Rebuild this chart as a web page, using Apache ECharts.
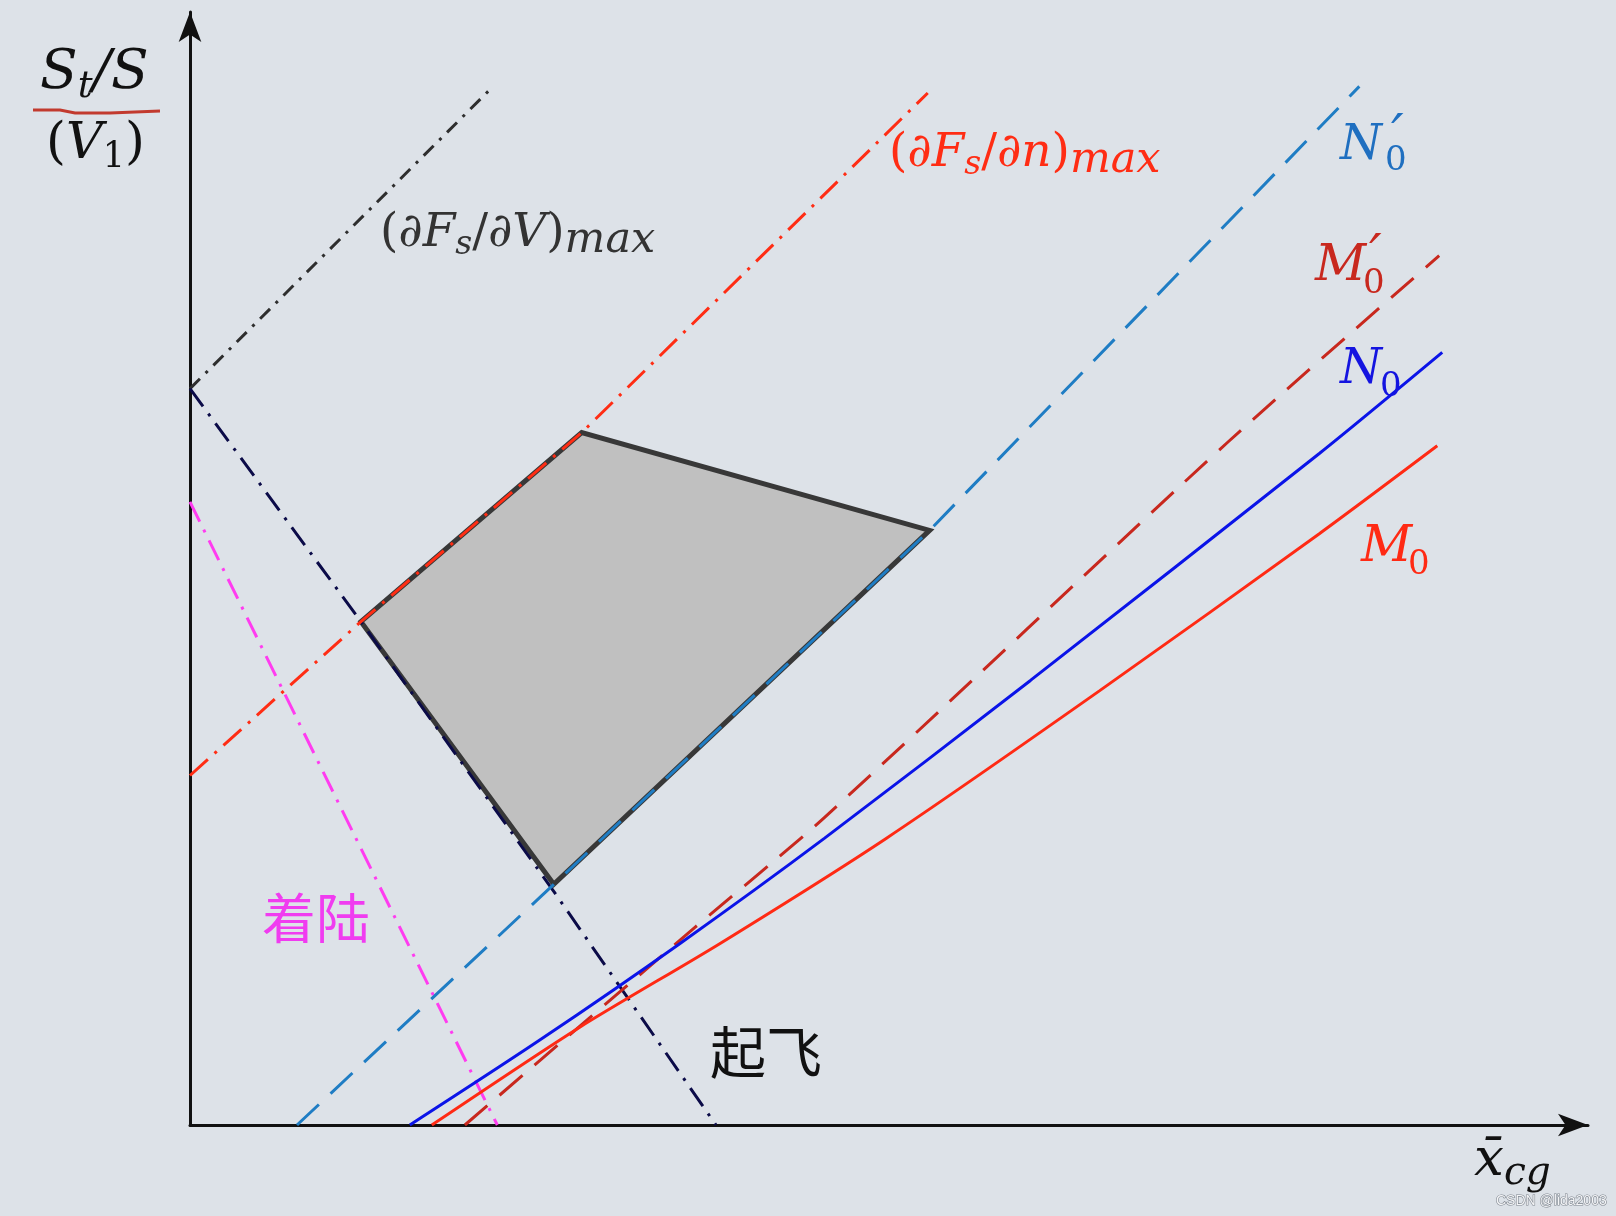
<!DOCTYPE html>
<html><head><meta charset="utf-8">
<script src="https://cdn.jsdelivr.net/npm/echarts@6/dist/echarts.min.js"></script>
<style>html,body{margin:0;padding:0;background:#dce1e7}#c{width:1616px;height:1216px}</style>
</head><body><div id="c"></div>
<script>
// Chart values in abstract units (x: 0..100, y: 0..100)
const dFsdV   = [[0,67.0],[21.9,94.5]];
const takeoff = [[0,67.0],[12.35,45.8],[26.2,21.4],[38.0,0]];
const dFsdn   = [[0,31.8],[12.35,45.8],[28.3,63.0],[53.3,93.9]];
const landing = [[0,56.7],[22.2,0]];
const N0prime = [[7.73,0],[26.28,21.9],[53.43,54.1],[84.48,94.5]];
const M0prime = [[19.86,0],[36.5,18.0],[45.85,28.0],[74.95,62.1],[90.25,79.1]];
const N0      = [[15.88,0],[25.27,7.73],[35.38,16.5],[45.85,26.1],[60.72,40.45],[81.59,61.1],[90.47,70.3]];
const M0      = [[17.47,0],[28.16,8.9],[38.27,16.5],[50.32,26.1],[65.7,39.5],[81.59,53.8],[90.11,61.8]];
const region  = [[12.35,45.8],[28.3,63.0],[53.43,54.1],[26.28,21.9]];
const xMax = 101.0, yMax = 101.27;

const MATH = '"DejaVu Serif"';
const CJK = '"Noto Sans CJK SC"';

function lineSeries(name, data, color, dash, smooth) {
  return {
    name, type: 'line', data, showSymbol: false, symbol: 'none', z: 3,
    smooth: smooth ? 0.25 : false, silent: true,
    lineStyle: { color, width: 3, type: dash, cap: 'butt' }
  };
}

function txt(x, y, text, color, size, italic, extra) {
  return {
    type: 'text', x, y, silent: true, z: 10,
    style: Object.assign({
      text, fill: color, fontSize: size, fontFamily: italic === 'cjk' ? CJK : MATH,
      fontStyle: italic === true ? 'italic' : 'normal',
      align: 'left', verticalAlign: 'middle'
    }, extra || {})
  };
}

function mathRich(x, y, text, color, mainSize, L, subs) {
  const rich = { m: { fontSize: mainSize, fontFamily: MATH, fontStyle: 'italic', fill: color, lineHeight: L, verticalAlign: 'middle' },
                 u: { fontSize: mainSize, fontFamily: MATH, fontStyle: 'normal', fill: color, lineHeight: L, verticalAlign: 'middle' } };
  for (const k in subs) {
    rich[k] = Object.assign({ fontFamily: MATH, fill: color, verticalAlign: 'bottom' }, subs[k]);
  }
  return { type: 'text', x, y, silent: true, z: 10,
    style: { text, fill: color, fontSize: mainSize, fontFamily: MATH, fontStyle: 'italic', align: 'left', verticalAlign: 'middle', rich } };
}

const chart = echarts.init(document.getElementById('c'), null, { renderer: 'canvas' });
function axis(max) {
  return {
    type: 'value', min: 0, max,
    axisLine: { show: true, onZero: true, symbol: ['none', 'arrow'], symbolSize: [17, 30], lineStyle: { color: '#111', width: 3 } },
    axisTick: { show: false }, axisLabel: { show: false }, splitLine: { show: false }
  };
}

const subDeriv = { s: { fontSize: 33, fontStyle: 'italic', lineHeight: 46 }, x: { fontSize: 43, fontStyle: 'italic', lineHeight: 32 } };
const PRIME = { fontFamily: '"DejaVu Sans"', fontStyle: 'italic' };

chart.setOption({
  animation: false,
  backgroundColor: '#dde2e8',
  grid: { left: 190, right: 28, top: 12, bottom: 91 },
  xAxis: axis(xMax),
  yAxis: axis(yMax),
  series: [
    {
      type: 'custom', data: region, z: 1, silent: true, encode: { x: 0, y: 1 },
      renderItem: function (params, api) {
        if (params.dataIndex !== 0) return null;
        const pts = region.map(p => api.coord(p));
        return { type: 'polygon', shape: { points: pts },
          style: { fill: '#c0c0c0', stroke: '#383838', lineWidth: 5, lineJoin: 'miter' } };
      }
    },
    lineSeries('dFsdV', dFsdV, '#2e2e2e', [14, 8, 3, 8], false),
    lineSeries('takeoff', takeoff, '#0b0b48', [22, 9, 3, 9], false),
    lineSeries('dFsdn', dFsdn, '#ff2d14', [24, 9, 3, 9], false),
    lineSeries('landing', landing, '#ff3cf0', [22, 9, 3, 9], false),
    lineSeries('N0prime', N0prime, '#1f7dc4', [30, 16], false),
    lineSeries('M0prime', M0prime, '#c8281e', [30, 16], true),
    lineSeries('N0', N0, '#0b14e8', 'solid', true),
    lineSeries('M0', M0, '#ff2a14', 'solid', true)
  ],
  graphic: [
    // y-axis label
    mathRich(40, 74, '{m|S}{t|t}{m|/}{m|S}', '#111', 55, 64, { t: { fontSize: 37, fontStyle: 'italic', lineHeight: 30 } }),
    { type: 'polyline', silent: true, z: 11, shape: { points: [[33, 110], [60, 110], [75, 113], [110, 113], [160, 111]] },
      style: { stroke: '#c23a2e', lineWidth: 3, fill: null } },
    mathRich(46, 145, '{u|(}{m|V}{o|1}{u|)}', '#111', 51, 60, { o: { fontSize: 35, fontStyle: 'normal', lineHeight: 26 } }),
    // x-axis label
    mathRich(1474, 1161, '{m|x\u0304}{c|cg}', '#111', 53, 64, { c: { fontSize: 39, fontStyle: 'italic', lineHeight: 24 } }),
    // derivative labels
    mathRich(380, 234, '{u|(}{m|\u2202F}{s|s}{u|/}{m|\u2202V}{u|)}{x|max}', '#333', 47, 56, subDeriv),
    mathRich(889, 154, '{u|(}{m|\u2202F}{s|s}{u|/}{m|\u2202n}{u|)}{x|max}', '#ff2d14', 47, 56, subDeriv),
    // curve labels
    txt(1340, 147, 'N', '#1f6fc0', 48, true),
    txt(1391, 138, '\u2032', '#1f6fc0', 56, false, PRIME),
    txt(1385, 161, '0', '#1f6fc0', 34, false),
    txt(1315, 267, 'M', '#c8281e', 50, true),
    txt(1369, 258, '\u2032', '#c8281e', 56, false, PRIME),
    txt(1363, 284, '0', '#c8281e', 34, false),
    txt(1340, 371, 'N', '#1414e0', 48, true),
    txt(1380, 387, '0', '#1414e0', 34, false),
    txt(1361, 548, 'M', '#ff2a14', 50, true),
    txt(1408, 565, '0', '#ff2a14', 34, false),
    // Chinese labels
    txt(262, 918, '着陆', '#f03cf0', 54, 'cjk'),
    txt(710, 1052, '起飞', '#111111', 56, 'cjk'),
    // watermark
    { type: 'text', x: 1496, y: 1201, silent: true, z: 12,
      style: { text: 'CSDN @lida2003', fill: '#f4f5f7', stroke: '#7f868f', lineWidth: 1.2, fontSize: 14,
        fontFamily: '"Liberation Sans"', align: 'left', verticalAlign: 'middle' } }
  ]
});
</script></body></html>
